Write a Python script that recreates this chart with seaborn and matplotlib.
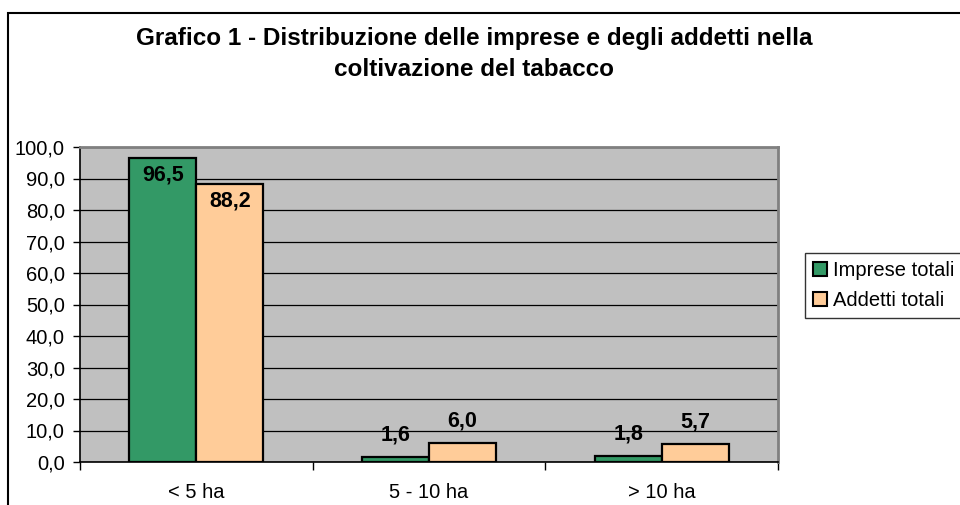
import pandas as pd
import matplotlib
matplotlib.use("Agg")
import matplotlib.pyplot as plt
import seaborn as sns
from matplotlib.patches import Rectangle

# dati
classi = ["< 5 ha", "5 - 10 ha", "> 10 ha"]
imprese = [96.5, 1.6, 1.8]
addetti = [88.2, 6.0, 5.7]
serie = ["Imprese totali", "Addetti totali"]
colori = ["#339966", "#FFCC99"]

df = pd.DataFrame({
    "classe": classi * 2,
    "valore": imprese + addetti,
    "serie": [serie[0]] * 3 + [serie[1]] * 3,
})

sns.set_style("white", rc={"text.color": "black", "xtick.color": "black",
                           "ytick.color": "black", "axes.labelcolor": "black"})
plt.rcParams["font.family"] = ["Liberation Sans", "DejaVu Sans"]

fig = plt.figure(figsize=(9.6, 5.05), dpi=100)
ax = fig.add_axes([80 / 960, 1 - 462 / 505, 698 / 960, 315 / 505])
ax.set_facecolor("#C0C0C0")

sns.barplot(data=df, x="classe", y="valore", hue="serie", palette=colori,
            width=0.576, edgecolor="black", linewidth=1.6, saturation=1,
            ax=ax, legend=True)

ax.set_xlim(-0.5, 2.5)
ax.set_ylim(0, 100)
ax.set_yticks(range(0, 101, 10))
ax.set_yticklabels([f"{v:.1f}".replace(".", ",") for v in range(0, 101, 10)])
ax.yaxis.grid(True, color="black", linewidth=0.9)
ax.set_axisbelow(True)
ax.set_xlabel("")
ax.set_ylabel("")

ax.tick_params(axis="y", labelsize=14.5, length=5, width=1, color="black", pad=6, left=True)
ax.tick_params(axis="x", which="major", labelsize=14.5, length=0, pad=15)
ax.set_xticks([-0.5, 0.5, 1.5, 2.5], minor=True)
ax.tick_params(axis="x", which="minor", length=6, width=1, color="black", bottom=True)

for s in ["left", "bottom"]:
    ax.spines[s].set_color("black")
    ax.spines[s].set_linewidth(1.2)
for s in ["top", "right"]:
    ax.spines[s].set_color("#808080")
    ax.spines[s].set_linewidth(2)

# etichette dei valori
for cont, vals in zip(ax.containers, [imprese, addetti]):
    for bar, v in zip(cont, vals):
        x = bar.get_x() + bar.get_width() / 2
        off = -12 if v > 50 else 16
        ax.annotate(f"{v:.1f}".replace(".", ","), (x, v), xytext=(0, off),
                    textcoords="offset points", ha="center", va="center",
                    fontsize=15.5, fontweight="bold", color="black")

leg = ax.legend(loc="center left", bbox_to_anchor=(805 / 960, 1 - 285.5 / 505),
                bbox_transform=fig.transFigure, fontsize=14.5, frameon=True,
                fancybox=False, edgecolor="black", handlelength=0.7,
                handleheight=0.7, handletextpad=0.3, borderpad=0.4,
                labelspacing=0.55, borderaxespad=0)
leg.get_frame().set_linewidth(1)
for h in leg.legend_handles:
    h.set_edgecolor("black")
    h.set_linewidth(1.5)

fig.text(474 / 960, 1 - 38 / 505, "Grafico 1 - Distribuzione delle imprese e degli addetti nella",
         ha="center", va="center", fontsize=17.5, fontweight="bold")
fig.text(474 / 960, 1 - 70 / 505, "coltivazione del tabacco",
         ha="center", va="center", fontsize=17.5, fontweight="bold")

fig.add_artist(Rectangle((8 / 960, -0.2), 2, 1.2 - 13 / 505, transform=fig.transFigure,
                         fill=False, edgecolor="black", linewidth=1.5))

fig.savefig("out.png", dpi=100)
